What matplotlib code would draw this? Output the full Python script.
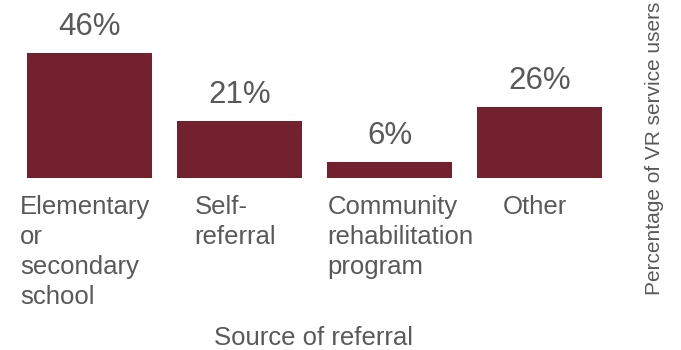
import matplotlib
matplotlib.use("Agg")
import matplotlib.pyplot as plt

# referral sources of VR service users
categories = ["Elementary\nor\nsecondary\nschool", "Self-\nreferral",
              "Community\nrehabilitation\nprogram", "Other"]
percent = [46, 21, 6, 26]

# horizontal nudge (points) for each wrapped category label
label_dx = [-3, -3, 8, -3]

bar_color = "#73212e"
text_color = "#595959"
plt.rcParams["font.family"] = ["Liberation Sans", "DejaVu Sans"]

fig = plt.figure(figsize=(6.81, 3.5), dpi=100)
ax = fig.add_axes([27 / 681, 172 / 350, 575 / 681, 125 / 350])

width = 0.8333
xs = range(len(categories))
ax.bar(xs, percent, width=width, color=bar_color)
ax.set_xlim(-width / 2, len(categories) - 1 + width / 2)
ax.set_ylim(0, max(percent))
ax.axis("off")

for x, v in zip(xs, percent):
    ax.annotate(f"{v}%", (x, v), xytext=(0, 13), textcoords="offset points",
                ha="center", va="baseline", fontsize=22.5, color=text_color,
                annotation_clip=False)

for x, lab, dx in zip(xs, categories, label_dx):
    ax.annotate(lab, (x, 0), xytext=(dx, -12), textcoords="offset points",
                ha="center", va="top", ma="left", fontsize=18.5,
                color=text_color, linespacing=1.33, annotation_clip=False)

fig.text(314 / 681, 5 / 350, "Source of referral", ha="center",
         va="baseline", fontsize=18.5, color=text_color)
fig.text(655 / 681, 55 / 350, "Percentage of VR service users",
         rotation=90, ha="center", va="bottom", fontsize=15,
         color=text_color)

fig.savefig("out.png", dpi=100)
